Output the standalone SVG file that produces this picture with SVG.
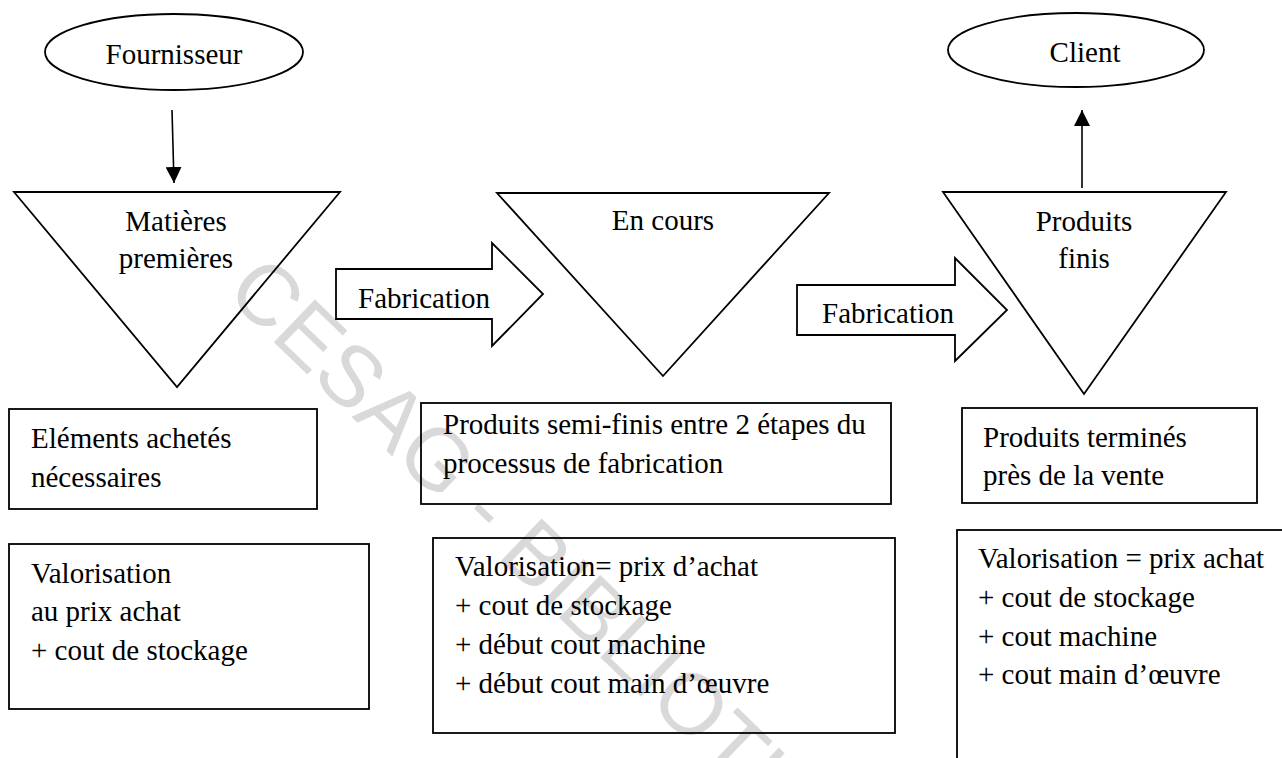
<svg xmlns="http://www.w3.org/2000/svg" width="1282" height="758" viewBox="0 0 1282 758">
<style>
.t{font-family:"Liberation Serif","Times New Roman",serif;font-size:29px;fill:#000}
.c{text-anchor:middle}
.s{fill:none;stroke:#000;stroke-width:1.8}
.wm{font-family:"Liberation Sans",Arial,sans-serif;font-size:86px;fill:#d9d9d9}
</style>
<defs>
<marker id="ah" viewBox="0 0 10 10" refX="10" refY="5" markerWidth="16" markerHeight="16" markerUnits="userSpaceOnUse" orient="auto">
<path d="M0,0 L10,5 L0,10 Z" fill="#000"/>
</marker>
</defs>
<rect width="1282" height="758" fill="#fff"/>
<text class="wm" transform="translate(224,294) rotate(44)">CESAG - BIBLIOTHEQUE</text>

<g id="fournisseur">
<ellipse class="s" cx="174" cy="52" rx="129" ry="38"/>
<text class="t c" x="174" y="64">Fournisseur</text>
</g>
<g id="client">
<ellipse class="s" cx="1076" cy="50" rx="128" ry="37"/>
<text class="t c" x="1085" y="62">Client</text>
</g>

<g id="matieres">
<polygon class="s" points="14,192 340,192 177,387"/>
<text class="t c" x="176" y="231">Matières</text>
<text class="t c" x="176" y="268">premières</text>
</g>
<g id="encours">
<polygon class="s" points="497,193 829,193 663,376"/>
<text class="t c" x="663" y="230">En cours</text>
</g>
<g id="produitsfinis">
<polygon class="s" points="943,192 1226,192 1084,394"/>
<text class="t c" x="1084" y="231">Produits</text>
<text class="t c" x="1084" y="268">finis</text>
</g>

<g id="fabrication1">
<polygon class="s" points="336,269 492,269 492,243 543,294 492,346 492,319 336,319"/>
<text class="t" x="358" y="308">Fabrication</text>
</g>
<g id="fabrication2">
<polygon class="s" points="797,285 955,285 955,258 1007,310 955,361 955,335 797,335"/>
<text class="t" x="822" y="323">Fabrication</text>
</g>

<g id="elements">
<rect class="s" x="9" y="409" width="308" height="100"/>
<text class="t" x="31" y="448">Eléments achetés</text>
<text class="t" x="31" y="487">nécessaires</text>
</g>
<g id="valo1">
<rect class="s" x="9" y="544" width="360" height="165"/>
<text class="t" x="31" y="583">Valorisation</text>
<text class="t" x="31" y="621">au prix achat</text>
<text class="t" x="31" y="660">+ cout de stockage</text>
</g>
<g id="semifinis">
<rect class="s" x="421" y="403" width="470" height="101"/>
<text class="t" x="443" y="434">Produits semi-finis entre 2 étapes du</text>
<text class="t" x="443" y="473">processus de fabrication</text>
</g>
<g id="valo2">
<rect class="s" x="433" y="538" width="462" height="195"/>
<text class="t" x="455" y="576">Valorisation= prix d’achat</text>
<text class="t" x="455" y="615">+ cout de stockage</text>
<text class="t" x="455" y="654">+ début cout machine</text>
<text class="t" x="455" y="693">+ début cout main d’œuvre</text>
</g>
<g id="termines">
<rect class="s" x="962" y="408" width="295" height="95"/>
<text class="t" x="983" y="447">Produits terminés</text>
<text class="t" x="983" y="485">près de la vente</text>
</g>
<g id="valo3">
<rect class="s" x="957" y="530" width="400" height="300"/>
<text class="t" x="978" y="568">Valorisation = prix achat</text>
<text class="t" x="978" y="607">+ cout de stockage</text>
<text class="t" x="978" y="646">+ cout machine</text>
<text class="t" x="978" y="684">+ cout main d’œuvre</text>
</g>

<g id="connectors">
<line x1="172" y1="110" x2="174" y2="183" stroke="#000" stroke-width="1.6" marker-end="url(#ah)"/>
<line x1="1082" y1="188" x2="1082" y2="110" stroke="#000" stroke-width="1.6" marker-end="url(#ah)"/>
</g>
</svg>
